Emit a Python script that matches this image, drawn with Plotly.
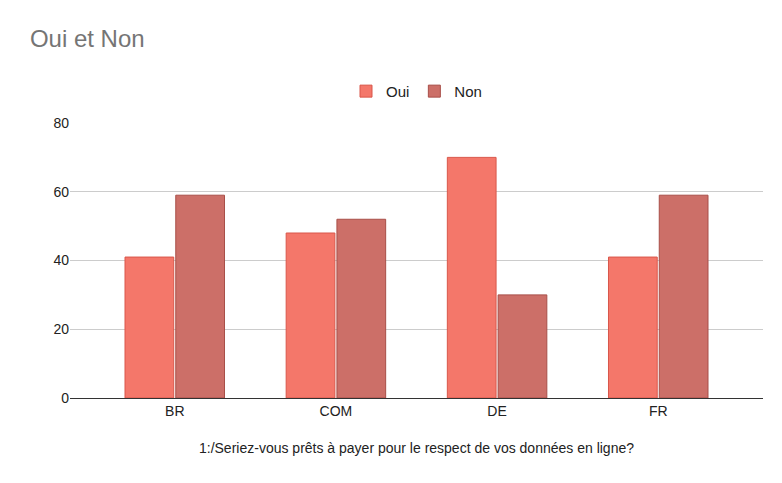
import plotly.graph_objects as go

categories = ["BR", "COM", "DE", "FR"]
oui = [41, 48, 70, 41]
non = [59, 52, 30, 59]

fig = go.Figure()
fig.add_bar(x=categories, y=oui, name="Oui", marker=dict(color="#f4776a", line=dict(color="#d9574a", width=1)))
fig.add_bar(x=categories, y=non, name="Non", marker=dict(color="#cc6f68", line=dict(color="#a84f48", width=1)))

fig.update_layout(
    width=782, height=483,
    paper_bgcolor="white", plot_bgcolor="white",
    font=dict(family="Arial, Liberation Sans, sans-serif", color="#222", size=14),
    title=dict(text="Oui et Non", x=0.028, y=0.955, xanchor="left",
               font=dict(size=24, color="#757575")),
    legend=dict(orientation="h", x=0.5, xanchor="center", y=1.115, yanchor="middle",
                font=dict(size=15)),
    margin=dict(l=62, r=27, t=115, b=93),
    bargap=0.37, bargroupgap=0.04,
)
fig.update_yaxes(range=[0, 80], dtick=20, gridcolor="#cccccc", zeroline=False,
                 showline=False, ticks="", tickfont=dict(size=14))
fig.update_xaxes(range=[-0.65, 3.65], showline=True, linecolor="#333", linewidth=1,
                 tickfont=dict(size=14),
                 title=dict(text="1:/Seriez-vous prêts à payer pour le respect de vos données en ligne?",
                            font=dict(size=14), standoff=25))

fig.write_html("out.html")
